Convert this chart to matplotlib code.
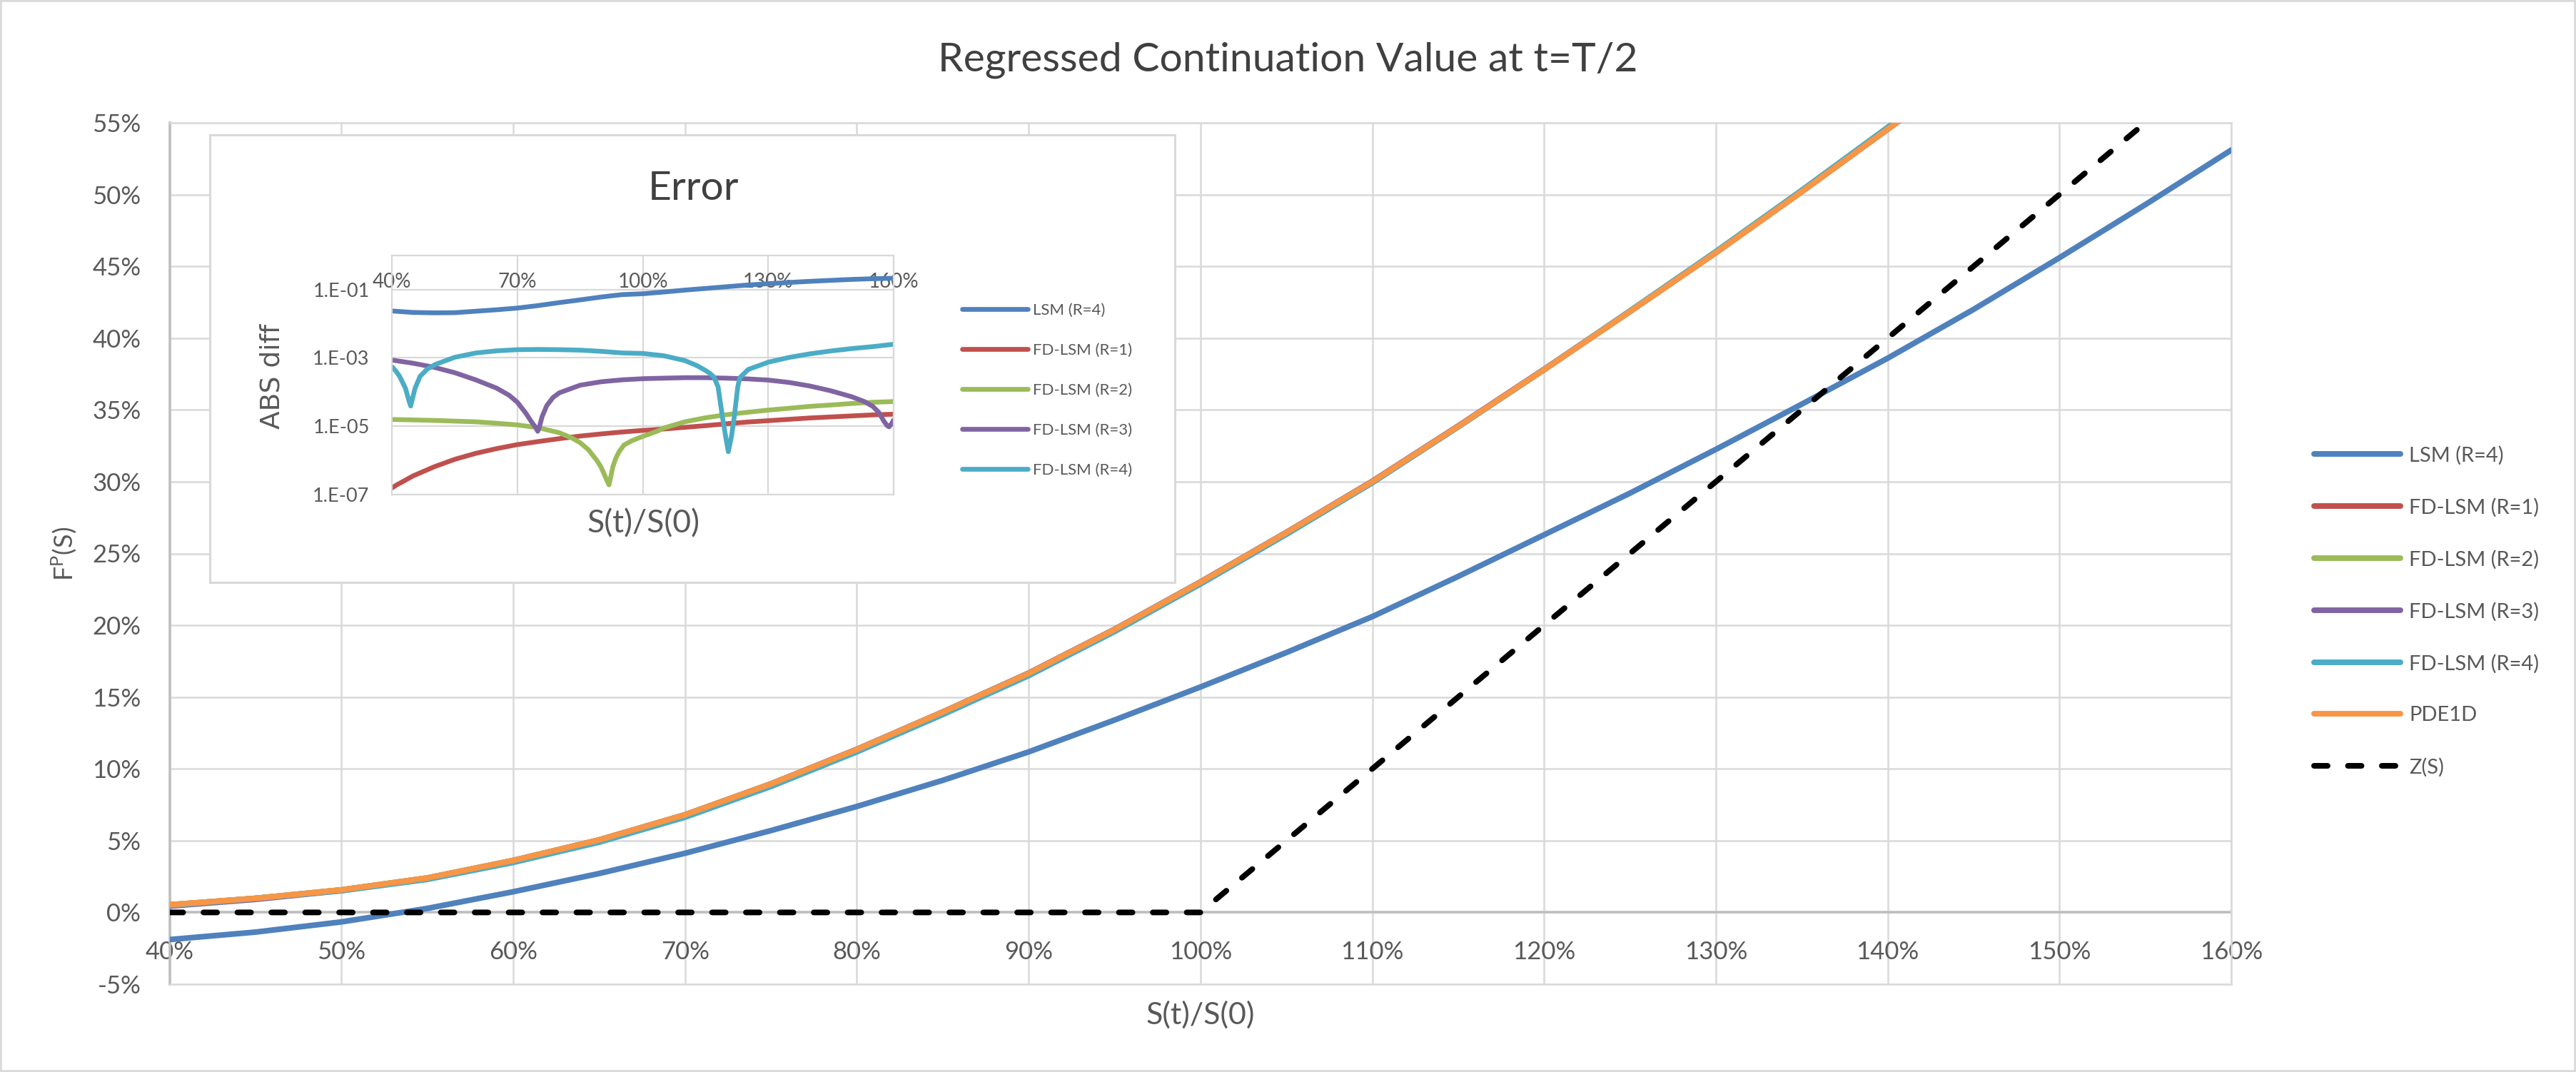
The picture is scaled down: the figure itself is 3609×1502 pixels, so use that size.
import numpy as np
import matplotlib
matplotlib.use("Agg")
import matplotlib.pyplot as plt
from matplotlib.patches import Rectangle
from matplotlib.ticker import FuncFormatter, NullLocator

plt.rcParams['font.family'] = ['Lato', 'DejaVu Sans']
plt.rcParams['mathtext.fontset'] = 'custom'
plt.rcParams['mathtext.rm'] = 'Lato'
plt.rcParams['mathtext.it'] = 'Lato:italic'

# ---- main chart data (S(t)/S(0) in %, values in %) ----
s_pct = [40, 45, 50, 55, 60, 65, 70, 75, 80, 85, 90, 95, 100,
         105, 110, 115, 120, 125, 130, 135, 140, 145, 150, 155, 160]
lsm_r4 = [-1.89, -1.37, -0.66, 0.28, 1.44, 2.71, 4.12, 5.70, 7.38, 9.20, 11.18, 13.40, 15.70,
          18.10, 20.60, 23.40, 26.30, 29.20, 32.25, 35.40, 38.60, 42.00, 45.60, 49.30, 53.10]
fd_lsm_r1 = [0.53, 0.98, 1.57, 2.40, 3.62, 5.05, 6.80, 8.95, 11.35, 13.95, 16.65, 19.70, 23.00,
             26.45, 30.00, 33.85, 37.80, 41.85, 45.95, 50.20, 54.55, 58.90, 63.30, 67.80, 72.30]
fd_lsm_r2 = [0.53, 0.98, 1.57, 2.40, 3.62, 5.05, 6.80, 8.95, 11.35, 13.95, 16.65, 19.70, 23.00,
             26.45, 30.00, 33.85, 37.80, 41.85, 45.95, 50.20, 54.55, 58.90, 63.30, 67.80, 72.30]
fd_lsm_r3 = [0.44, 0.91, 1.52, 2.36, 3.60, 5.04, 6.79, 8.95, 11.36, 13.96, 16.67, 19.72, 23.02,
             26.47, 30.03, 33.88, 37.83, 41.87, 45.97, 50.22, 54.56, 58.91, 63.31, 67.80, 72.30]
fd_lsm_r4 = [0.48, 0.98, 1.51, 2.30, 3.48, 4.89, 6.63, 8.77, 11.18, 13.78, 16.49, 19.56, 22.87,
             26.33, 29.92, 33.81, 37.80, 41.90, 46.03, 50.30, 54.68, 59.06, 63.49, 68.01, 72.55]
pde1d = [0.53, 0.98, 1.57, 2.40, 3.62, 5.05, 6.80, 8.95, 11.35, 13.95, 16.65, 19.70, 23.00,
         26.45, 30.00, 33.85, 37.80, 41.85, 45.95, 50.20, 54.55, 58.90, 63.30, 67.80, 72.30]
z_s = [0, 0, 0, 0, 0, 0, 0, 0, 0, 0, 0, 0, 0,
       5, 10, 15, 20, 25, 30, 35, 40, 45, 50, 55, 60]

# ---- inset data: log10 of ABS diff ----
lsm_err_x = [40, 45, 50, 55, 60, 65, 70, 75, 80, 85, 90, 95, 100,
             105, 110, 115, 120, 125, 130, 135, 140, 145, 150, 155, 160]
lsm_err_log = [-1.626, -1.668, -1.680, -1.675, -1.633, -1.590, -1.540, -1.466, -1.380, -1.300,
               -1.216, -1.146, -1.120, -1.070, -1.014, -0.965, -0.915, -0.865, -0.826, -0.790,
               -0.756, -0.728, -0.700, -0.680, -0.666]

fd1_err_x = [40, 41, 42.5, 45, 50, 55, 60, 65, 70, 75, 80, 85, 90, 95, 100,
             105, 110, 115, 120, 125, 130, 135, 140, 145, 150, 155, 160]
fd1_err_log = [-6.81, -6.73, -6.63, -6.46, -6.195, -5.972, -5.798, -5.659, -5.541, -5.451,
               -5.367, -5.291, -5.228, -5.172, -5.125, -5.084, -5.035, -4.986, -4.93, -4.88,
               -4.84, -4.80, -4.76, -4.73, -4.70, -4.67, -4.65]

fd2_err_x = [40, 45, 50, 55, 60, 65, 70, 75, 80, 83, 85, 87, 89, 90, 90.9, 91.5, 91.9,
             92.3, 92.8, 93.5, 94.3, 95.5, 97.5, 100, 103.6, 105, 110, 115, 120, 125,
             130, 135, 140, 145, 150, 155, 160]
fd2_err_log = [-4.804, -4.818, -4.832, -4.853, -4.873, -4.915, -4.964, -5.047, -5.193, -5.346,
               -5.485, -5.694, -6.007, -6.20, -6.45, -6.62, -6.72, -6.50, -6.20, -5.95,
               -5.75, -5.55, -5.42, -5.30, -5.14, -5.056, -4.874, -4.755, -4.664, -4.594,
               -4.53, -4.476, -4.42, -4.38, -4.336, -4.30, -4.28]

fd3_err_x = [40, 45, 50, 55, 60, 65, 68, 70, 72, 73.5, 74.3, 74.85, 75.3, 75.9, 77, 78.5,
             80, 85, 90, 95, 100, 105, 110, 115, 120, 125, 130, 135, 140, 145, 150,
             153, 155, 156.4, 157.6, 158.4, 158.9, 159.5, 160]
fd3_err_log = [-3.065, -3.156, -3.274, -3.434, -3.643, -3.886, -4.095, -4.303, -4.62, -4.90,
               -5.03, -5.15, -5.00, -4.72, -4.40, -4.16, -4.025, -3.80, -3.70, -3.643,
               -3.61, -3.594, -3.58, -3.58, -3.594, -3.615, -3.65, -3.72, -3.825, -3.965,
               -4.14, -4.28, -4.42, -4.59, -4.84, -4.98, -5.02, -4.93, -4.82]

fd4_err_x = [40, 41, 41.8, 43.2, 44.0, 44.45, 44.95, 45.5, 46.7, 48.4, 50.4, 55, 60, 65, 70,
             75, 80, 85, 90, 95, 100, 105, 110, 113, 115, 116, 117, 118, 119, 119.8, 120.45,
             121.2, 121.9, 122.7, 123.2, 125.2, 130, 135, 140, 145, 150, 155, 160]
fd4_err_log = [-3.26, -3.40, -3.54, -3.89, -4.24, -4.41, -4.16, -3.89, -3.54, -3.33, -3.19,
               -2.982, -2.857, -2.794, -2.759, -2.752, -2.759, -2.773, -2.808, -2.855, -2.87,
               -2.937, -3.077, -3.23, -3.37, -3.45, -3.56, -3.85, -4.70, -5.30, -5.75, -5.30,
               -4.70, -3.85, -3.58, -3.34, -3.126, -2.986, -2.88, -2.797, -2.727, -2.67, -2.60]

x_ticks = [40, 50, 60, 70, 80, 90, 100, 110, 120, 130, 140, 150, 160]
y_ticks = [-5, 0, 5, 10, 15, 20, 25, 30, 35, 40, 45, 50, 55]
inset_x_ticks = [40, 70, 100, 130, 160]
inset_y_ticks = [1e-7, 1e-5, 1e-3, 1e-1]
inset_y_labels = ['1.E-07', '1.E-05', '1.E-03', '1.E-01']

names = ['LSM (R=4)', 'FD-LSM (R=1)', 'FD-LSM (R=2)', 'FD-LSM (R=3)', 'FD-LSM (R=4)', 'PDE1D', 'Z(S)']
colors = ['#4F81BD', '#C0504D', '#9BBB59', '#8064A2', '#4BACC6', '#F79646', '#000000']
txt = '#595959'
grid_c = '#d9d9d9'
W, H = 3609.0, 1502.0


def fx(px):
    return px / W


def fy(py):
    return 1 - py / H


pct = FuncFormatter(lambda v, p: "%d%%" % round(v))

fig = plt.figure(figsize=(36.09, 15.02), dpi=100)

# main axes
ax = fig.add_axes([fx(237.6), fy(1379), (3126 - 237.6) / W, (1379 - 172) / H])
series = [lsm_r4, fd_lsm_r1, fd_lsm_r2, fd_lsm_r3, fd_lsm_r4, pde1d]
for vals, name, c in zip(series, names[:6], colors[:6]):
    ax.plot(s_pct, vals, color=c, lw=5.7, label=name,
            solid_capstyle='round', solid_joinstyle='round', zorder=3)
ax.plot(s_pct, z_s, color='black', lw=5.7, dashes=(2.4, 3.6), dash_capstyle='round',
        label=names[6], zorder=3)

ax.set_xlim(40, 160)
ax.set_ylim(-5, 55)
ax.set_xticks(x_ticks)
ax.set_yticks(y_ticks)
ax.xaxis.set_major_formatter(pct)
ax.yaxis.set_major_formatter(pct)
ax.grid(True, color=grid_c, lw=1.8)
ax.set_axisbelow(True)
ax.axhline(0, color='#bfbfbf', lw=2.6, zorder=1.5)
for side in ['top', 'right', 'bottom']:
    ax.spines[side].set_color(grid_c)
    ax.spines[side].set_linewidth(1.8)
ax.spines['left'].set_color('#bfbfbf')
ax.spines['left'].set_linewidth(2.6)
ax.tick_params(length=0, labelsize=25, labelcolor=txt)
ax.tick_params(axis='x', pad=-44)
ax.tick_params(axis='y', pad=29)
ax.set_xlabel('S(t)/S(0)', fontsize=31, color=txt, va='center')
ax.xaxis.set_label_coords(0.5, -0.0356)
ax.set_ylabel(r'F$^{\mathrm{P}}$(S)', fontsize=26, color=txt, va='center', ha='center')
ax.yaxis.set_label_coords(-0.0511, 0.5)

fig.text(0.4999, fy(84), 'Regressed Continuation Value at t=T/2', ha='center', va='center',
         fontsize=41, color='#404040')

h, l = ax.get_legend_handles_labels()
fig.legend(h, l, loc='center left', bbox_to_anchor=(fx(3242), fy(856.5)), frameon=False,
           fontsize=21, handlelength=4.15, handletextpad=0.41, labelspacing=1.58,
           borderpad=0, borderaxespad=0, labelcolor=txt)

# inset box
ax_box = fig.add_axes([fx(294), fy(816), 1352 / W, 627 / H], zorder=3)
ax_box.set_xticks([])
ax_box.set_yticks([])
ax_box.set_facecolor('white')
for s in ax_box.spines.values():
    s.set_color(grid_c)
    s.set_linewidth(2.2)

# inset plot
ax_in = fig.add_axes([fx(549.3), fy(692.7), 702.7 / W, 334.7 / H], zorder=4)
inset = [(lsm_err_x, lsm_err_log), (fd1_err_x, fd1_err_log), (fd2_err_x, fd2_err_log),
         (fd3_err_x, fd3_err_log), (fd4_err_x, fd4_err_log)]
for (xs, lg), name, c in zip(inset, names[:5], colors[:5]):
    ax_in.plot(xs, np.power(10.0, np.array(lg)), color=c, lw=4.8, label=name,
               solid_capstyle='round', solid_joinstyle='round')
ax_in.set_yscale('log')
ax_in.set_ylim(1e-7, 1)
ax_in.set_xlim(40, 160)
ax_in.set_xticks(inset_x_ticks)
ax_in.xaxis.set_major_formatter(pct)
ax_in.set_yticks(inset_y_ticks)
ax_in.set_yticklabels(inset_y_labels)
ax_in.yaxis.set_minor_locator(NullLocator())
ax_in.grid(True, color=grid_c, lw=1.6)
ax_in.set_axisbelow(True)
for s in ax_in.spines.values():
    s.set_color(grid_c)
    s.set_linewidth(1.6)
ax_in.tick_params(length=0, labelcolor=txt)
ax_in.tick_params(axis='x', pad=-224, labelsize=20)
ax_in.tick_params(axis='y', pad=22.7, labelsize=19.5)

fig.text(fx(971), fy(264), 'Error', ha='center', va='center', fontsize=41, color='#404040', zorder=6)
fig.text(fx(381), fy(527), 'ABS diff', ha='center', va='center', rotation=90,
         family='DejaVu Sans', fontsize=27, color=txt, zorder=6)
fig.text(fx(901), fy(734), 'S(t)/S(0)', ha='center', va='center', fontsize=32, color=txt, zorder=6)

hi, li = ax_in.get_legend_handles_labels()
leg_in = fig.legend(hi, li, loc='center left', bbox_to_anchor=(fx(1348), fy(547)), frameon=False,
                    fontsize=16, handlelength=4.15, handletextpad=0.3, labelspacing=1.62,
                    borderpad=0, borderaxespad=0, labelcolor=txt)
leg_in.set_zorder(6)

fig.patches.append(Rectangle((0, 0), 1, 1, transform=fig.transFigure, fill=False,
                             edgecolor=grid_c, lw=4, zorder=10))

fig.savefig('out.png', dpi=100, facecolor='white')
